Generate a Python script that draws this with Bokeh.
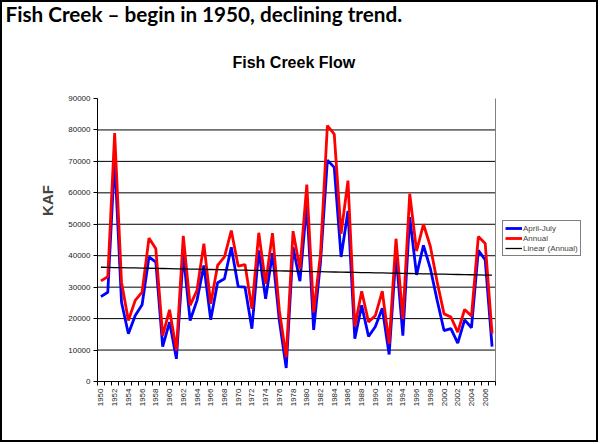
import numpy as np
from math import pi
from bokeh.plotting import figure
from bokeh.models import (Range1d, FixedTicker, Title, Label, Legend, LegendItem,
                          ColumnDataSource)
from bokeh.embed import file_html
from bokeh.resources import INLINE

# Fish Creek flow volumes (KAF), water years 1950-2007
years = list(range(1950, 2008))
april_july = [27000, 28400, 71000, 25200, 15200, 21000, 24400, 39600, 38000, 11100,
              18900, 7200, 40500, 19400, 25800, 36900, 19600, 31400, 32700, 42700,
              30200, 30000, 16800, 41700, 26300, 40800, 19400, 4300, 42700, 31900,
              56500, 16400, 38000, 70400, 68100, 39600, 54200, 13600, 24200, 14300,
              17500, 23300, 8600, 40600, 14600, 52300, 33900, 43300, 36000, 25800,
              16200, 16800, 12200, 19600, 17100, 41700, 38700, 11100]
annual = [32000, 33300, 79000, 31600, 19400, 25800, 28400, 45600, 42200, 14600,
          22800, 9900, 46300, 24200, 29000, 43800, 24700, 36900, 39600, 48000,
          36700, 37200, 23100, 47300, 31100, 47200, 22600, 7700, 47800, 35800,
          62600, 22000, 40500, 81400, 78700, 47000, 63900, 17500, 28700, 18900,
          21000, 28700, 12000, 45400, 19900, 59700, 41500, 50000, 43000, 31600,
          21500, 20500, 15700, 22900, 20800, 46100, 43900, 15200]
year_ticks = list(range(1950, 2007, 2))
value_ticks = list(range(0, 90001, 10000))

# least-squares linear trend of the annual series
slope, intercept = np.polyfit(years, annual, 1)
trend = [slope * y + intercept for y in years]

# canvas sits inside a 2px page border
W, H = 598, 442
FL, FB = 95, 379              # frame left / bottom on the canvas
FT = 17                       # frame top: room above the plot area for the chart title
PLOT_RIGHT, PLOT_TOP = 493, 96  # edges of the plotted area on the canvas
x_lo, x_hi = years[0] - 0.5, years[-1] + 0.5
y_lo, y_hi = value_ticks[0], value_ticks[-1]
# the frame runs past the plot area (right: legend, top: chart title)
x_per_px = (x_hi - x_lo) / (PLOT_RIGHT - FL)
y_per_px = (y_hi - y_lo) / (FB - PLOT_TOP)
x_end = x_lo + (W - FL) * x_per_px
y_end = y_lo + (FB - FT) * y_per_px

p = figure(width=W, height=H, output_backend="svg", toolbar_location=None,
           x_range=Range1d(x_lo, x_end), y_range=Range1d(y_lo, y_end),
           min_border_left=FL, min_border_right=0,
           min_border_top=FT, min_border_bottom=H - FB,
           background_fill_color="white", border_fill_color="white",
           styles={"border": "2px solid black"})
p.outline_line_color = None
p.xgrid.grid_line_color = None
p.ygrid.grid_line_color = None

# horizontal gridlines and the right edge of the plot area
grid_vals = value_ticks[1:-1]
p.segment(x0=[x_lo] * len(grid_vals), x1=[x_hi] * len(grid_vals),
          y0=grid_vals, y1=grid_vals, line_color="black", line_width=1)
p.segment(x0=[x_hi], x1=[x_hi], y0=[y_lo], y1=[y_hi],
          line_color="#808080", line_width=1)

src = ColumnDataSource(dict(year=years, aj=april_july, an=annual, tr=trend))
r_aj = p.line("year", "aj", source=src, line_color="#0000FF", line_width=2.8)
r_an = p.line("year", "an", source=src, line_color="#FF0000", line_width=2.8)
r_tr = p.line("year", "tr", source=src, line_color="black", line_width=1.3)

# axes
p.xaxis.bounds = (x_lo, x_hi)
p.xaxis.ticker = FixedTicker(ticks=year_ticks,
                             minor_ticks=[y - 0.5 for y in years] + [x_hi])
p.xaxis.major_label_orientation = pi / 2
p.xaxis.major_tick_out = 0
p.xaxis.major_tick_in = 0
p.xaxis.minor_tick_out = 4
p.xaxis.minor_tick_in = 0
p.xaxis.major_label_text_font = "Liberation Sans"
p.xaxis.major_label_text_font_size = "8px"
p.xaxis.major_label_text_color = "#222222"
p.xaxis.major_label_standoff = 3
p.xaxis.axis_line_color = "black"

p.yaxis.bounds = (y_lo, y_hi)
p.yaxis.ticker = FixedTicker(ticks=value_ticks)
p.yaxis.minor_tick_line_color = None
p.yaxis.major_tick_out = 4
p.yaxis.major_tick_in = 0
p.yaxis.major_label_text_font = "Liberation Sans"
p.yaxis.major_label_text_font_size = "8px"
p.yaxis.major_label_text_color = "#222222"
p.yaxis.major_label_standoff = 3
p.yaxis.axis_label = "KAF"
p.yaxis.axis_label_text_font = "Liberation Sans"
p.yaxis.axis_label_text_font_style = "bold"
p.yaxis.axis_label_text_font_size = "15px"
p.yaxis.axis_label_standoff = 9
p.yaxis.axis_line_color = "black"

# slide heading
p.add_layout(Title(text="Fish Creek \u2013 begin in 1950, declining trend.",
                   align="left", offset=3 - FL, vertical_align="top", standoff=-17,
                   text_font="Lato", text_font_style="bold",
                   text_font_size="20.7px", text_color="black"), "above")

# chart title, placed in the frame above the plot area
p.add_layout(Label(x=x_lo + (230 - FL) * x_per_px, y=y_lo + (FB - 60) * y_per_px,
                   text="Fish Creek Flow", text_align="left", text_baseline="middle",
                   text_font="Liberation Sans", text_font_style="bold",
                   text_font_size="16px", text_color="black"))

legend = Legend(items=[LegendItem(label="April-July", renderers=[r_aj]),
                       LegendItem(label="Annual", renderers=[r_an]),
                       LegendItem(label="Linear (Annual)", renderers=[r_tr])],
                location=(500 - FL, FB - 254),
                label_text_font="Liberation Sans", label_text_font_size="8px",
                label_height=10, glyph_height=10, glyph_width=17,
                label_standoff=1, spacing=0, padding=2, margin=0,
                border_line_color="black", border_line_width=1,
                background_fill_color="white", background_fill_alpha=1)
p.add_layout(legend)

open("out.html", "w").write(file_html(p, INLINE))
